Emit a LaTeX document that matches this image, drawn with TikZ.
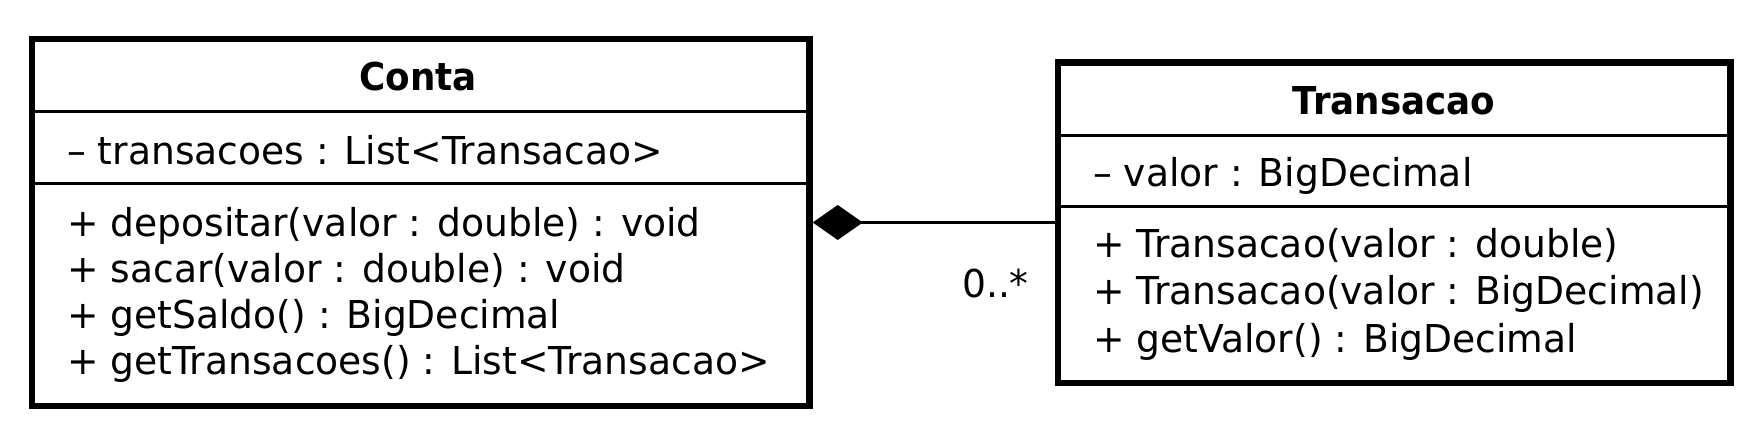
\documentclass[tikz,border=0pt]{standalone}
\usepackage{fontspec}
\setmainfont{DejaVu Sans}[UprightFeatures={FakeStretch=0.98},BoldFeatures={FakeStretch=0.93}]
\usetikzlibrary{arrows.meta}
\begin{document}
\begin{tikzpicture}[x=1pt,y=-1pt,
  umlbox/.style={draw=black,line width=6.5pt,inner sep=0pt,fill=none},
  sepline/.style={draw=black,line width=3pt},
  member/.style={anchor=base west,inner sep=0pt,font=\fontsize{38.4}{46}\selectfont},
  title/.style={anchor=base,inner sep=0pt,font=\fontsize{38.4}{46}\selectfont\bfseries},
  mult/.style={anchor=base east,inner sep=0pt,font=\fontsize{38.4}{46}\selectfont},
  comp/.style={draw=black,line width=3pt,{Diamond[length=50pt,width=35pt]}-}
]
\useasboundingbox[fill=white] (0,0) rectangle (1758,438);

% Conta
\node[umlbox,minimum width=777.5pt,minimum height=367pt] (conta) at (420.75,222.5) {};
\draw[sepline] (32,112) -- (809.5,112);
\draw[sepline] (32,184) -- (809.5,184);
\node[title] (contaT) at (418,91) {Conta};
\node[member] (ca1) at (67,165) {– transacoes : List<Transacao>};
\node[member] (cm1) at (67,236.5) {+ depositar(valor : double) : void};
\node[member] (cm2) at (67,282.5) {+ sacar(valor : double) : void};
\node[member] (cm3) at (67,328.5) {+ getSaldo() : BigDecimal};
\node[member] (cm4) at (67,374.5) {+ getTransacoes() : List<Transacao>};

% Transacao
\node[umlbox,minimum width=672.5pt,minimum height=320.5pt] (trans) at (1394.25,222.75) {};
\draw[sepline] (1058,136) -- (1730.5,136);
\draw[sepline] (1058,207) -- (1730.5,207);
\node[title] (transT) at (1394,115) {Transacao};
\node[member] (ta1) at (1093,187) {– valor : BigDecimal};
\node[member] (tm1) at (1093,258) {+ Transacao(valor : double)};
\node[member] (tm2) at (1093,305) {+ Transacao(valor : BigDecimal)};
\node[member] (tm3) at (1093,352) {+ getValor() : BigDecimal};

% composition
\draw[comp] (conta.east) -- (conta.east -| trans.west);
\node[mult] (m1) at (1029,298) {0..*};
\end{tikzpicture}
\end{document}
